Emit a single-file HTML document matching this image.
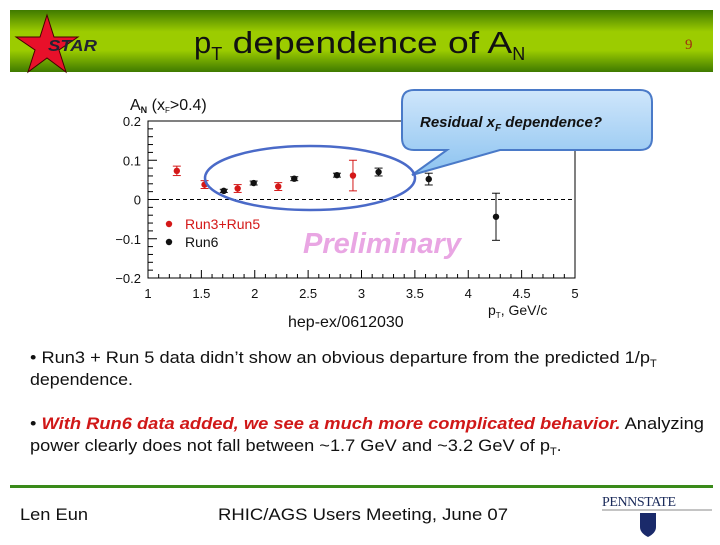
<!DOCTYPE html>
<html><head><meta charset="utf-8"><style>
body{margin:0;width:720px;height:540px;overflow:hidden;background:#fff;font-family:"Liberation Sans",sans-serif}
</style></head><body>
<svg id="s" width="720" height="540" viewBox="0 0 720 540" xmlns="http://www.w3.org/2000/svg">
<defs>
<linearGradient id="hg" x1="0" y1="0" x2="0" y2="1">
<stop offset="0" stop-color="#3f7a00"/><stop offset="0.35" stop-color="#9ccc00"/><stop offset="0.65" stop-color="#9ccc00"/><stop offset="1" stop-color="#3f7a00"/></linearGradient>
<linearGradient id="cg" x1="0" y1="0" x2="0" y2="1"><stop offset="0" stop-color="#cfe6fb"/><stop offset="1" stop-color="#8cc3f0"/></linearGradient>
</defs>
<rect x="10" y="10" width="703" height="62" fill="url(#hg)"/>
<polygon points="47,15 54,37 78,37 59,50 66,72 47,58 28,72 35,50 16,37 40,37" fill="#e8102a" stroke="#400" stroke-width="1"/>
<text x="48" y="51" font-size="16" font-weight="bold" font-style="italic" fill="#223" textLength="49" lengthAdjust="spacingAndGlyphs">STAR</text>
<text x="194" y="53" font-size="31" fill="#111">p<tspan font-size="18" dy="7">T</tspan><tspan dy="-7" textLength="290" lengthAdjust="spacingAndGlyphs"> dependence of A</tspan><tspan font-size="18" dy="7">N</tspan></text>
<text x="685" y="49" font-size="15" fill="#a03010" font-family="Liberation Serif">9</text>
<g id="plot"></g>
<path d="M414,90 H640 Q652,90 652,102 V138 Q652,150 640,150 H500 L412,175 L447,150 H414 Q402,150 402,138 V102 Q402,90 414,90 Z" fill="url(#cg)" stroke="#4a7ac8" stroke-width="2"/>
<text x="420" y="127" font-size="15" font-weight="bold" font-style="italic" fill="#111">Residual x<tspan font-size="10" dy="4">F</tspan><tspan dy="-4"> dependence?</tspan></text>
<ellipse cx="310" cy="178" rx="105" ry="32" fill="none" stroke="#4a6ac8" stroke-width="2.5"/>
<text x="303" y="253" font-size="29" font-weight="bold" font-style="italic" fill="#e9a6e3">Preliminary</text>
<text x="288" y="327" font-size="16" fill="#111">hep-ex/0612030</text>
<text x="30" y="363" font-size="17" fill="#111"><tspan textLength="620" lengthAdjust="spacingAndGlyphs">• Run3 + Run 5 data didn’t show an obvious departure from the predicted 1/p</tspan><tspan font-size="11" dy="4">T</tspan></text>
<text x="30" y="385" font-size="17" fill="#111" textLength="103" lengthAdjust="spacingAndGlyphs">dependence.</text>
<text x="30" y="429" font-size="17" fill="#111" textLength="674" lengthAdjust="spacingAndGlyphs">• <tspan fill="#d01818" font-weight="bold" font-style="italic">With Run6 data added, we see a much more complicated behavior.</tspan> Analyzing</text>
<text x="30" y="451" font-size="17" fill="#111"><tspan textLength="520" lengthAdjust="spacingAndGlyphs">power clearly does not fall between ~1.7 GeV and ~3.2 GeV of p</tspan><tspan font-size="11" dy="4">T</tspan><tspan dy="-4">.</tspan></text>
<rect x="10" y="485" width="703" height="3" fill="#3a8a1a"/>
<text x="20" y="520" font-size="17" fill="#111" textLength="68" lengthAdjust="spacingAndGlyphs">Len Eun</text>
<text x="218" y="520" font-size="17" fill="#111" textLength="290" lengthAdjust="spacingAndGlyphs">RHIC/AGS Users Meeting, June 07</text>
<text x="602" y="506" font-size="14" fill="#1a2a5a" font-family="Liberation Serif" textLength="74">PENNSTATE</text>
<line x1="602" y1="510" x2="712" y2="510" stroke="#888" stroke-width="1"/>
<path d="M640,513 H656 V527 Q656,533 648,537 Q640,533 640,527 Z" fill="#1a2a6a"/>
</svg>
<script>
const redX=[1.27,1.53,1.84,2.22,2.92];
const redY=[0.073,0.038,0.028,0.033,0.061];
const redErr=[0.012,0.01,0.01,0.01,0.039];
const blkX=[1.71,1.99,2.37,2.77,3.16,3.63,4.26];
const blkY=[0.022,0.042,0.053,0.062,0.070,0.052,-0.044];
const blkErr=[0.004,0.005,0.005,0.005,0.01,0.015,0.06];
const xTicks=[1,1.5,2,2.5,3,3.5,4,4.5,5];
const xTickLabels=["1","1.5","2","2.5","3","3.5","4","4.5","5"];
const yTicks=[0.2,0.1,0,-0.1,-0.2];
const yTickLabels=["0.2","0.1","0","\u22120.1","\u22120.2"];
const NS="http://www.w3.org/2000/svg";
const X0=148,X1=575,Y0=278,Y1=121;
const sx=v=>X0+(v-1)/4*(X1-X0);
const sy=v=>Y0-(v+0.2)/0.4*(Y0-Y1);
const g=document.getElementById('plot');
function mk(t,a){const e=document.createElementNS(NS,t);for(const k in a)e.setAttribute(k,a[k]);g.appendChild(e);return e;}
let e=mk('rect',{x:X0,y:Y1,width:X1-X0,height:Y0-Y1,fill:'none',stroke:'#000','stroke-width':1});


e=mk('line',{x1:X0,x2:X1,y1:sy(0),y2:sy(0),stroke:'#000','stroke-dasharray':'4,3'});


for(let v=1;v<=5.001;v+=0.1){const big=Math.abs(v*2-Math.round(v*2))<0.01;
e=mk('line',{x1:sx(v),x2:sx(v),y1:Y0,y2:Y0-(big?8:4),stroke:'#000'});

}
for(let v=-0.2;v<=0.2001;v+=0.02){const big=Math.abs(v*10-Math.round(v*10))<0.01;
e=mk('line',{x1:X0,x2:X0+(big?9:5),y1:sy(v),y2:sy(v),stroke:'#000'});

}
xTicks.forEach((v,i)=>{e=mk('text',{x:sx(v),y:Y0+20,'font-size':13,'text-anchor':'middle',fill:'#111'});e.textContent=xTickLabels[i];

});
yTicks.forEach((v,i)=>{e=mk('text',{x:X0-7,y:sy(v)+5,'font-size':13,'text-anchor':'end',fill:'#111'});e.textContent=yTickLabels[i];

});
e=mk('text',{x:130,y:110,'font-size':16,fill:'#111'});e.innerHTML='A<tspan font-size="9" font-weight="bold" dy="3">N</tspan><tspan dy="-3"> (x</tspan><tspan font-size="8" dy="3">F</tspan><tspan dy="-3">&gt;0.4)</tspan>';


e=mk('text',{x:488,y:315,'font-size':14,fill:'#111'});e.innerHTML='p<tspan font-size="8" dy="3">T</tspan><tspan dy="-3">, GeV/c</tspan>';


function series(xs,ys,es,col,nm){xs.forEach((x,i)=>{
e=mk('line',{x1:sx(x),x2:sx(x),y1:sy(ys[i]-es[i]),y2:sy(ys[i]+es[i]),stroke:col,'stroke-width':1});


[ys[i]-es[i],ys[i]+es[i]].forEach(c=>{e=mk('line',{x1:sx(x)-4,x2:sx(x)+4,y1:sy(c),y2:sy(c),stroke:col});

});
e=mk('circle',{cx:sx(x),cy:sy(ys[i]),r:3.2,fill:col});

});}
series(redX,redY,redErr,'#d41818','run3-run5');
series(blkX,blkY,blkErr,'#111','run6');
e=mk('circle',{cx:169,cy:224,r:3.2,fill:'#d41818'});


e=mk('text',{x:185,y:229,'font-size':14,fill:'#d41818'});e.textContent='Run3+Run5';


e=mk('circle',{cx:169,cy:242,r:3.2,fill:'#111'});


e=mk('text',{x:185,y:247,'font-size':14,fill:'#111'});e.textContent='Run6';


</script>
</body></html>
